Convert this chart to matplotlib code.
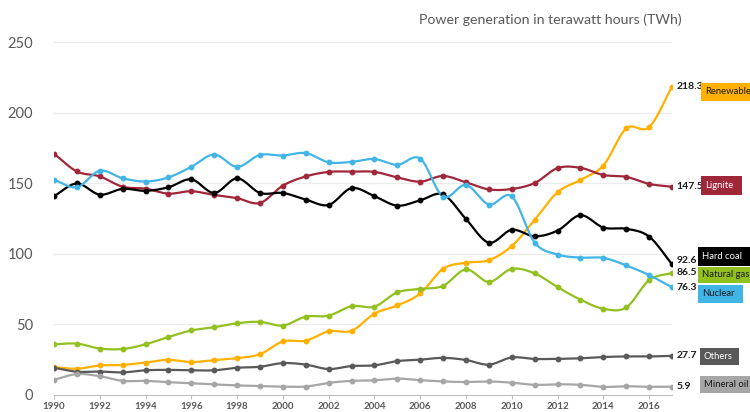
#!/usr/bin/env python3
# -*- coding: utf-8 -*-
"""Power generation in Germany 1990-2017 by source (TWh), smoothed line chart."""

import numpy as np
import matplotlib
matplotlib.use('Agg')
import matplotlib.pyplot as plt
from matplotlib.patches import Rectangle

years = list(range(1990, 2018))
tick_years = list(range(1990, 2018, 2))

renewables = [19.7, 18.6, 20.9, 21.3, 23.0, 24.9, 23.3, 24.7, 26.1, 28.9,
              37.9, 38.5, 45.1, 45.5, 57.6, 63.4, 71.9, 89.4, 93.7, 95.5,
              105.5, 124.0, 143.6, 152.3, 162.5, 188.8, 189.7, 218.3]
lignite = [170.9, 158.3, 154.8, 147.5, 146.1, 142.6, 144.3, 141.7, 139.4, 136.0,
           148.3, 154.8, 158.0, 158.2, 158.0, 154.1, 151.1, 155.1, 150.6, 145.6,
           145.9, 150.1, 160.7, 160.9, 155.8, 154.5, 149.5, 147.5]
hard_coal = [140.8, 149.8, 141.9, 146.0, 144.6, 147.1, 152.7, 143.1, 153.4, 143.1,
             143.1, 138.4, 134.6, 146.5, 140.8, 134.1, 137.9, 142.0, 124.6, 107.9,
             117.0, 112.4, 116.4, 127.3, 118.6, 117.7, 112.2, 92.6]
natural_gas = [35.9, 36.4, 32.9, 32.6, 35.9, 41.1, 45.7, 48.0, 50.8, 51.8,
               49.2, 55.5, 56.2, 62.9, 62.6, 72.7, 75.1, 77.3, 88.9, 80.1,
               89.3, 86.1, 76.4, 67.5, 61.1, 62.0, 81.3, 86.5]
nuclear = [152.5, 147.2, 158.8, 153.5, 151.2, 154.1, 161.6, 170.3, 161.6, 170.0,
           169.6, 171.3, 164.8, 165.1, 167.1, 163.0, 167.4, 140.5, 148.8, 134.9,
           140.6, 108.0, 99.5, 97.3, 97.1, 91.8, 84.9, 76.3]
others = [19.3, 16.5, 16.6, 16.0, 17.5, 17.8, 17.5, 17.5, 19.3, 20.0,
          22.6, 21.5, 18.4, 20.5, 21.0, 24.0, 25.0, 26.3, 24.8, 21.5,
          26.6, 25.5, 25.6, 26.0, 26.9, 27.3, 27.3, 27.7]
mineral_oil = [10.8, 14.8, 13.3, 10.0, 10.0, 9.1, 8.3, 7.5, 6.8, 6.4,
               5.9, 6.0, 8.6, 10.0, 10.4, 11.6, 10.5, 9.6, 9.2, 9.6,
               8.7, 7.2, 7.6, 7.2, 5.7, 6.2, 5.8, 5.9]

names = ['Renewables', 'Lignite', 'Hard coal', 'Natural gas', 'Nuclear', 'Others', 'Mineral oil']
values = [renewables, lignite, hard_coal, natural_gas, nuclear, others, mineral_oil]
colors = ['#FFB000', '#A0263A', '#000000', '#92C01F', '#41B5E6', '#595959', '#A6A6A6']
text_colors = ['#1a1a1a', 'white', 'white', '#1a1a1a', '#1a1a1a', 'white', '#1a1a1a']

# label boxes on the right, in pixels (x0, y_top, x1, y_bottom)
boxes = [(701, 82.7, 760, 100.7), (701, 176, 742, 195), (698, 246.7, 760, 266.3),
         (698, 266.7, 760, 282.5), (698, 284.7, 743, 302.7), (700, 347.7, 739, 365.3),
         (700, 376, 760, 392.7)]
value_offset = [0, 0, 3, 0, 0, 0, 0]

W, H = 750, 412
GRAY = '#595959'
plt.rcParams['font.family'] = ['Lato', 'DejaVu Sans']


def smooth(x, y, n=16):
    """Catmull-Rom curve through the points (like Excel smoothed lines)"""
    x = np.asarray(x, float)
    y = np.asarray(y, float)
    px = np.concatenate([[2*x[0]-x[1]], x, [2*x[-1]-x[-2]]])
    py = np.concatenate([[2*y[0]-y[1]], y, [2*y[-1]-y[-2]]])
    t = np.linspace(0, 1, n, endpoint=False)
    h00 = 2*t**3 - 3*t**2 + 1
    h10 = t**3 - 2*t**2 + t
    h01 = -2*t**3 + 3*t**2
    h11 = t**3 - t**2
    xs, ys = [], []
    for i in range(1, len(px)-2):
        for arr, out in ((px, xs), (py, ys)):
            p0, p1, p2, p3 = arr[i-1:i+3]
            out.append(h00*p1 + h10*(p2-p0)/2 + h01*p2 + h11*(p3-p1)/2)
    xs.append([x[-1]])
    ys.append([y[-1]])
    return np.concatenate(xs), np.concatenate(ys)


fig = plt.figure(figsize=(W/100, H/100), dpi=100)
ax = fig.add_axes([54/W, (H-395)/H, 618/W, 353/H])

for name, vals, c in zip(names, values, colors):
    sx, sy = smooth(years, vals)
    ax.plot(sx, sy, color=c, lw=1.6, solid_capstyle='round', zorder=3)
    ax.plot(years, vals, 'o', color=c, ms=3.2, zorder=4)

for vals, off in zip(values, value_offset):
    ax.text(years[-1] + 0.2, vals[-1] + off, f'{vals[-1]:.1f}', fontsize=7.5,
            fontweight='bold', color='#1a1a1a', va='center', ha='left', clip_on=False)

ax.set_xlim(1990, 2017)
ax.set_ylim(0, 250)
ax.set_yticks(range(0, 251, 50))
ax.set_xticks(tick_years)
ax.set_xticklabels([str(y) for y in tick_years], fontsize=7, fontweight='bold', color=GRAY)
ax.tick_params(axis='y', length=0, pad=15, labelsize=10.5, labelcolor=GRAY)
ax.tick_params(axis='x', length=3, color='#bfbfbf', pad=2)
for y in range(50, 251, 50):
    ax.axhline(y, color='#ebebeb', lw=0.9, zorder=0)
for s in ['top', 'right', 'left']:
    ax.spines[s].set_visible(False)
ax.spines['bottom'].set_color('#bfbfbf')

fig.text(550/W, 1 - 20/H, 'Power generation in terawatt hours (TWh)', fontsize=10.2,
         color=GRAY, ha='center', va='center')

for name, (x0, y0, x1, y1), fc, tc in zip(names, boxes, colors, text_colors):
    fig.add_artist(Rectangle((x0/W, 1 - y1/H), (x1-x0)/W, (y1-y0)/H,
                             transform=fig.transFigure, facecolor=fc, edgecolor='none'))
    fig.text((x0 + 4)/W, 1 - (y0+y1)/2/H, name, fontsize=6.8, color=tc,
             ha='left', va='center')

plt.savefig('out.png', dpi=100)
plt.close()
